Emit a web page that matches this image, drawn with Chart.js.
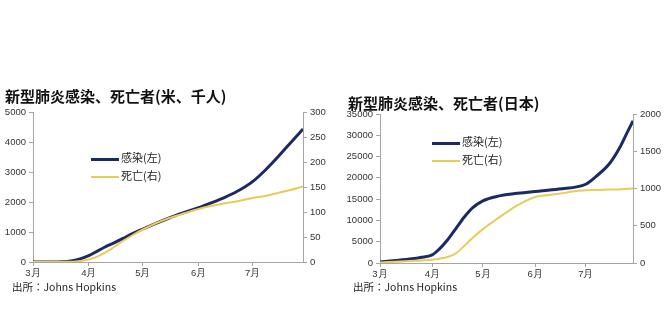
<!DOCTYPE html>
<html>
<head>
<meta charset="utf-8">
<script src="https://cdn.jsdelivr.net/npm/chart.js@4.4.0/dist/chart.umd.min.js"></script>
<style>
  html, body { margin: 0; padding: 0; background: #fff; }
  body { width: 667px; height: 322px; position: relative; overflow: hidden; font-family: "Noto Sans CJK JP", "Liberation Sans", sans-serif; }
  canvas { position: absolute; top: 0; }
  .title { position: absolute; font-size: 15px; font-weight: bold; color: #111; white-space: nowrap; line-height: 1; }
  .src { position: absolute; font-size: 10.5px; color: #222; white-space: nowrap; line-height: 1; }
  .leg { position: absolute; font-size: 11px; color: #222; white-space: nowrap; line-height: 1; }
  .leg span { display: inline-block; width: 28px; vertical-align: middle; margin-right: 2px; }
</style>
</head>
<body>
<canvas id="us" width="334" height="322" style="left:0px"></canvas>
<canvas id="jp" width="333" height="322" style="left:334px"></canvas>

<div class="title" style="left:5px; top:88px;">新型肺炎感染、死亡者(米、千人)</div>
<div class="title" style="left:348px; top:95px;">新型肺炎感染、死亡者(日本)</div>
<div class="src" style="left:12px; top:282px;">出所：Johns Hopkins</div>
<div class="src" style="left:353px; top:282px;">出所：Johns Hopkins</div>

<div class="leg" style="left:91px; top:152px;"><span style="border-top:3px solid #1B2A63"></span>感染(左)</div>
<div class="leg" style="left:91px; top:170px;"><span style="border-top:2px solid #E9CB5B"></span>死亡(右)</div>
<div class="leg" style="left:432px; top:136px;"><span style="border-top:3px solid #1B2A63"></span>感染(左)</div>
<div class="leg" style="left:432px; top:154px;"><span style="border-top:2px solid #E9CB5B"></span>死亡(右)</div>

<script>
// Month tick positions (days since Mar 1) and labels
const monthDays = [0, 31, 61, 92, 122];
const monthLabels = ['3月', '4月', '5月', '6月', '7月'];

// US (thousands)
const usDays   = [0, 9, 14, 19, 24, 31, 35, 40, 45, 50, 55, 61, 68, 75, 82, 92, 99, 106, 113, 122, 129, 136, 143, 150];
const usCases  = [0, 1, 3, 19, 66, 215, 337, 500, 637, 785, 940, 1100, 1280, 1450, 1610, 1810, 1970, 2140, 2340, 2680, 3060, 3500, 3970, 4430];
const usDeaths = [0, 0, 0.1, 0.3, 1, 5, 9.6, 18.7, 30, 42, 53, 65, 77, 87, 95, 106, 112, 117, 121, 128, 132, 138, 144, 151];

// Japan
const jpDays   = [0, 9, 19, 24, 31, 35, 40, 45, 50, 55, 61, 70, 80, 92, 106, 122, 128, 136, 142, 146, 150];
const jpCases  = [250, 580, 1000, 1300, 1900, 3200, 5400, 8100, 10800, 13000, 14600, 15700, 16300, 16800, 17400, 18500, 20300, 23300, 27000, 30200, 33400];
const jpDeathDays = [0, 15, 31, 40, 45, 50, 55, 61, 68, 75, 82, 92, 99, 106, 113, 122, 129, 136, 143, 150];
const jpDeaths = [6, 25, 45, 80, 130, 230, 340, 455, 570, 680, 780, 885, 910, 930, 955, 975, 980, 985, 990, 1000];

const NAVY = '#1B2A63';
const GOLD = '#E9CB5B';
const AXIS = '#A6A6A6';
const TICKC = '#333333';
const tickFont = { family: '"Liberation Sans", Arial, sans-serif', size: 9.5 };

function pts(xs, ys) { return xs.map((x, i) => ({ x: x, y: ys[i] })); }

function makeChart(id, cfg) {
  const gridY = { drawOnChartArea: false, drawTicks: true, tickLength: 4, color: AXIS };
  return new Chart(document.getElementById(id), {
    type: 'line',
    data: {
      datasets: [
        { label: '死亡(右)', data: cfg.deaths, yAxisID: 'y2', borderColor: GOLD, borderWidth: 2,
          pointRadius: 0, tension: 0.3, cubicInterpolationMode: 'monotone', order: 1 },
        { label: '感染(左)', data: cfg.cases, yAxisID: 'y', borderColor: NAVY, borderWidth: 3,
          pointRadius: 0, tension: 0.3, cubicInterpolationMode: 'monotone', order: 2 }
      ]
    },
    options: {
      responsive: false,
      devicePixelRatio: 1,
      animation: false,
      events: [],
      layout: { padding: { top: cfg.top, left: 0, right: 0, bottom: 0 } },
      plugins: { legend: { display: false }, tooltip: { enabled: false }, title: { display: false } },
      scales: {
        x: {
          type: 'linear', min: 0, max: 150,
          grid: gridY,
          border: { color: AXIS, width: 1 },
          afterBuildTicks: (ax) => { ax.ticks = monthDays.map(v => ({ value: v })); },
          afterFit: (ax) => { ax.height = cfg.xh; },
          ticks: { autoSkip: false, maxRotation: 0, padding: 2, color: TICKC, font: tickFont,
            callback: (v) => { const i = monthDays.indexOf(v); return i >= 0 ? monthLabels[i] : ''; } }
        },
        y: {
          position: 'left', min: 0, max: cfg.lmax,
          grid: gridY,
          border: { color: AXIS, width: 1 },
          afterFit: (ax) => { ax.width = cfg.lw; },
          ticks: { stepSize: cfg.lstep, padding: 3, color: TICKC, font: tickFont, callback: (v) => String(v) }
        },
        y2: {
          position: 'right', min: 0, max: cfg.rmax,
          grid: gridY,
          border: { color: AXIS, width: 1 },
          afterFit: (ax) => { ax.width = cfg.rw; },
          ticks: { stepSize: cfg.rstep, padding: 3, color: TICKC, font: tickFont, callback: (v) => String(v) }
        }
      }
    }
  });
}

makeChart('us', {
  cases: pts(usDays, usCases), deaths: pts(usDays, usDeaths),
  top: 112, xh: 60, lw: 33, rw: 31,
  lmax: 5000, lstep: 1000, rmax: 300, rstep: 50
});
makeChart('jp', {
  cases: pts(jpDays, jpCases), deaths: pts(jpDeathDays, jpDeaths),
  top: 114, xh: 59, lw: 46, rw: 34,
  lmax: 35000, lstep: 5000, rmax: 2000, rstep: 500
});
</script>
</body>
</html>
